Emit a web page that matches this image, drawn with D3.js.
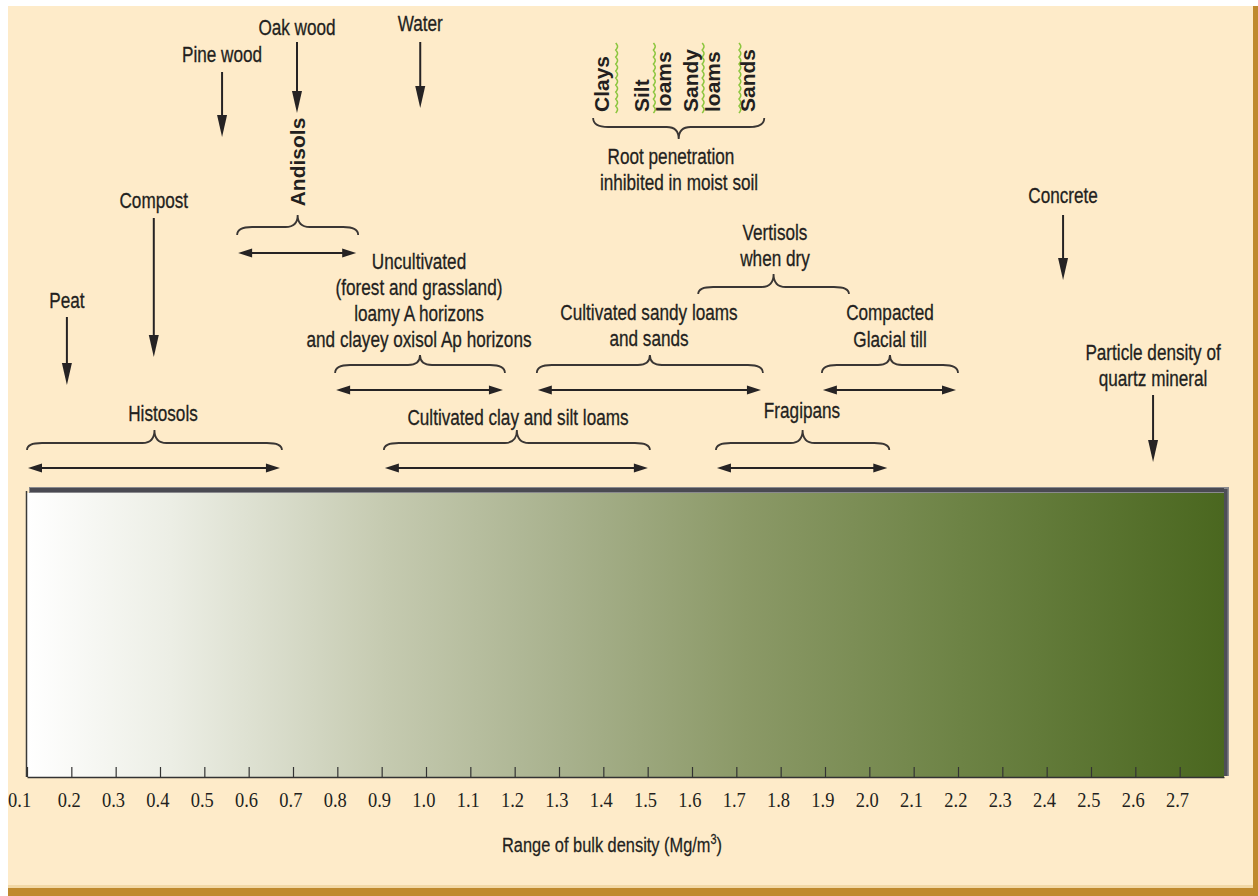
<!DOCTYPE html>
<html><head><meta charset="utf-8">
<script src="https://cdn.jsdelivr.net/npm/d3@7"></script>
<style>
body{margin:0;background:#fff}
svg{display:block}
text{font-family:"Liberation Sans",Arial,sans-serif;fill:#231f20}
</style>
</head><body>
<svg id="chart" width="1258" height="896"></svg>
<script>
// ---------- data ----------
const tickValues = [0.1,0.2,0.3,0.4,0.5,0.6,0.7,0.8,0.9,1.0,1.1,1.2,1.3,1.4,1.5,1.6,1.7,1.8,1.9,2.0,2.1,2.2,2.3,2.4,2.5,2.6,2.7];
const tickLabels = ["0.1","0.2","0.3","0.4","0.5","0.6","0.7","0.8","0.9","1.0","1.1","1.2","1.3","1.4","1.5","1.6","1.7","1.8","1.9","2.0","2.1","2.2","2.3","2.4","2.5","2.6","2.7"];
const axisDomain = [0.1, 2.8];
const axisTitle = "Range of bulk density (Mg/m";
const axisTitleSup = "3";

const pointNames  = ["Peat","Compost","Pine wood","Oak wood","Water","Concrete","Particle density of quartz mineral"];
const pointValues = [0.19, 0.386, 0.54, 0.709, 0.987, 2.437, 2.64];

const rangeNames = ["Histosols","Andisols","Uncultivated","Cultivated clay and silt loams","Cultivated sandy loams and sands","Fragipans","Vertisols when dry","Compacted Glacial till","Root penetration"];
const rangeLow   = [0.10, 0.574, 0.795, 0.905, 1.25, 1.654, 1.614, 1.893, 1.377];
const rangeHigh  = [0.675, 0.847, 1.178, 1.505, 1.76, 2.045, 1.954, 2.20, 1.763];

const rootNames  = ["Clays","Silt loams","Sandy loams","Sands"];
const rootValues = [1.43, 1.515, 1.625, 1.708];

// ---------- layout ----------
const bar = {x0: 27, x1: 1224, y0: 493, y1: 777};
const svg = d3.select("#chart");
const x = d3.scaleLinear().domain(axisDomain).range([bar.x0, bar.x1]);
const INK = "#262324";

// frame
svg.append("rect").attr("x",8).attr("y",6).attr("width",1245).attr("height",882).attr("fill","#feebc9");
svg.append("rect").attr("x",8).attr("y",885).attr("width",1250).attr("height",3).attr("fill","#f2d8a6");
svg.append("rect").attr("x",8).attr("y",888).attr("width",1250).attr("height",8).attr("fill","#bf8a2f");
svg.append("rect").attr("x",1253).attr("y",6).attr("width",5).attr("height",890).attr("fill","#bf8a2f");

// gradient
const defs = svg.append("defs");
const grad = defs.append("linearGradient").attr("id","bd").attr("x1","0%").attr("x2","100%");
const stops = [[0,"#ffffff"],[0.12,"#eceee5"],[0.3,"#c5cab0"],[0.45,"#a8b18d"],[0.6,"#8b9967"],[0.78,"#6d8345"],[1,"#4a671f"]];
stops.forEach(s=>grad.append("stop").attr("offset",s[0]).attr("stop-color",s[1]));

svg.append("rect").attr("x",bar.x0).attr("y",bar.y0).attr("width",bar.x1-bar.x0).attr("height",bar.y1-bar.y0).attr("fill","url(#bd)");
svg.append("rect").attr("x",bar.x0+2).attr("y",bar.y0-6).attr("width",bar.x1-bar.x0+3).attr("height",6).attr("fill","#8a8a8e");
svg.append("rect").attr("x",bar.x0+3).attr("y",bar.y0-5).attr("width",bar.x1-bar.x0+1).attr("height",4).attr("fill","#4a4a52");
svg.append("rect").attr("x",bar.x1).attr("y",bar.y0-5).attr("width",5).attr("height",bar.y1-bar.y0+4).attr("fill","#8a8a8e");
svg.append("rect").attr("x",bar.x1).attr("y",bar.y0-4).attr("width",3.5).attr("height",bar.y1-bar.y0+3).attr("fill","#4e4e56");
svg.append("line").attr("x1",bar.x0-0.5).attr("x2",bar.x0-0.5).attr("y1",bar.y0-2).attr("y2",bar.y1).attr("stroke","#3a3a3a").attr("stroke-width",1.5);

// axis
const axis = d3.axisBottom(x).tickValues(tickValues).tickSize(-10).tickSizeOuter(0).tickPadding(15)
  .tickFormat((d,i)=>tickLabels[i]);
const gAxis = svg.append("g").attr("transform",`translate(0,${bar.y1})`).call(axis);
gAxis.select(".domain").attr("stroke","#333").attr("stroke-width",1.6);
gAxis.selectAll(".tick line").attr("stroke","#333").attr("stroke-width",1.2);
gAxis.selectAll(".tick text")
  .style("font-family","'Liberation Serif','Times New Roman',serif")
  .style("font-size","21px").attr("fill","#222")
  .attr("x",(d,i)=> i===0 ? -9 : -3)
  .attr("transform","scale(0.88,1)");

// condensed text helper
function ctext(parent, cx, y, str, size){
  return parent.append("text")
    .attr("transform",`translate(${cx},${y}) scale(0.78,1)`)
    .attr("text-anchor","middle")
    .style("font-size",(size||22)+"px")
    .style("stroke","#231f20").style("stroke-width","0.3px")
    .text(str);
}

// axis title
const t = svg.append("text").attr("transform",`translate(612,852) scale(0.78,1)`).attr("text-anchor","middle")
  .style("font-size","21px").style("stroke","#231f20").style("stroke-width","0.25px");
t.append("tspan").text(axisTitle);
t.append("tspan").attr("dy",-8).style("font-size","14px").text(axisTitleSup);
t.append("tspan").attr("dy",8).text(")");

// arrow helpers
function vArrow(xp, y1, y2){
  const hl = 22, hw = 5;
  svg.append("line").attr("x1",xp).attr("x2",xp).attr("y1",y1).attr("y2",y2-hl+2).attr("stroke",INK).attr("stroke-width",2);
  svg.append("path").attr("d",`M${xp-hw},${y2-hl} L${xp+hw},${y2-hl} L${xp},${y2} Z`).attr("fill",INK);
}
function hArrow(xa, xb, y){
  const hl = 14, hw = 4.5;
  svg.append("line").attr("x1",xa+hl-2).attr("x2",xb-hl+2).attr("y1",y).attr("y2",y).attr("stroke",INK).attr("stroke-width",2.2);
  svg.append("path").attr("d",`M${xa},${y} L${xa+hl},${y-hw} L${xa+hl},${y+hw} Z`).attr("fill",INK);
  svg.append("path").attr("d",`M${xb},${y} L${xb-hl},${y-hw} L${xb-hl},${y+hw} Z`).attr("fill",INK);
}
function brace(xa, xb, yEnd, yBody, yTip){
  const xm = (xa+xb)/2, r = Math.min(15,(xb-xa)/6), rt = 12;
  const d = `M${xa},${yEnd} Q${xa},${yBody} ${xa+r},${yBody} L${xm-rt},${yBody} Q${xm},${yBody} ${xm},${yTip} Q${xm},${yBody} ${xm+rt},${yBody} L${xb-r},${yBody} Q${xb},${yBody} ${xb},${yEnd}`;
  svg.append("path").attr("d",d).attr("fill","none").attr("stroke","#3a3634").attr("stroke-width",1.8);
}

// point (vertical arrow) annotations
const pointLayout = {
  "Peat":{lines:["Peat"], base:[308], a:[317,385]},
  "Compost":{lines:["Compost"], base:[208], a:[218,357]},
  "Pine wood":{lines:["Pine wood"], base:[62], a:[72,137]},
  "Oak wood":{lines:["Oak wood"], base:[35], a:[42,113]},
  "Water":{lines:["Water"], base:[31], a:[42,108]},
  "Concrete":{lines:["Concrete"], base:[203], a:[215,280]},
  "Particle density of quartz mineral":{lines:["Particle density of","quartz mineral"], base:[360,386], a:[395,462]}
};
pointNames.forEach((n,i)=>{
  const L = pointLayout[n], xp = x(pointValues[i]);
  L.lines.forEach((s,j)=>ctext(svg, xp, L.base[j], s));
  vArrow(xp, L.a[0], L.a[1]);
});

// range annotations
const rangeLayout = {
  "Histosols":{lines:["Histosols"], lx:163, base:[421], br:[450,443,430], arrow:468},
  "Andisols":{rot:true, br:[235,227,215], arrow:253},
  "Uncultivated":{lines:["Uncultivated","(forest and grassland)","loamy A horizons","and clayey oxisol Ap horizons"], lx:419, base:[269,295,321,347], br:[373,365,355], arrow:390},
  "Cultivated clay and silt loams":{lines:["Cultivated clay and silt loams"], lx:518, base:[425], br:[450,443,430], arrow:468},
  "Cultivated sandy loams and sands":{lines:["Cultivated sandy loams","and sands"], lx:649, base:[320,346], br:[373,365,355], arrow:390},
  "Fragipans":{lines:["Fragipans"], lx:802, base:[418], br:[450,443,430], arrow:468},
  "Vertisols when dry":{lines:["Vertisols","when dry"], lx:775, base:[240,266], br:[294,287,274], arrow:null},
  "Compacted Glacial till":{lines:["Compacted","Glacial till"], lx:890, base:[320,347], br:[373,365,355], arrow:390},
  "Root penetration":{lines:["Root penetration","inhibited in moist soil"], lxs:[671,679], base:[164,190], br:[118,127,139], arrow:null}
};
rangeNames.forEach((n,i)=>{
  const L = rangeLayout[n];
  const xa = x(rangeLow[i]), xb = x(rangeHigh[i]);
  brace(xa, xb, L.br[0], L.br[1], L.br[2]);
  if (L.arrow !== null) hArrow(xa+1, xb-2, L.arrow);
  if (L.rot){
    svg.append("text").attr("transform",`translate(${(xa+xb)/2},162) rotate(-90)`)
      .attr("text-anchor","middle").attr("dominant-baseline","central")
      .style("font-size","21px").style("font-weight","bold").text(n);
  } else {
    L.lines.forEach((s,j)=>ctext(svg, L.lxs ? L.lxs[j] : L.lx, L.base[j], s));
  }
});

// root restriction texture labels (rotated) with green wavy markers
const rootLayout = {
  "Clays":[["Clays",-15]],
  "Silt loams":[["Silt",-13],["loams",9]],
  "Sandy loams":[["Sandy",-13],["loams",9]],
  "Sands":[["Sands",8]]
};
rootNames.forEach((n,i)=>{
  const xw = x(rootValues[i]);
  const pts = d3.range(43, 114, 1).map(yy=>[xw + 1.8*Math.abs(Math.sin(Math.PI*(yy-43)/7)) - 0.9, yy]);
  svg.append("path").attr("d", d3.line()(pts)).attr("fill","none").attr("stroke","#8cc63f").attr("stroke-width",1.5);
  rootLayout[n].forEach(([s,off])=>{
    svg.append("text").attr("transform",`translate(${xw+off},112) rotate(-90)`)
      .attr("text-anchor","start").attr("dominant-baseline","central")
      .style("font-size","21px").style("font-weight","bold").text(s);
  });
});
</script>
</body></html>
